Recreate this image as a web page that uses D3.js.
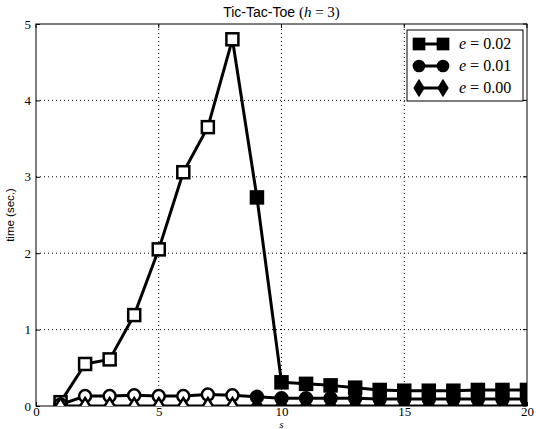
<!DOCTYPE html>
<html lang="en">
<head>
<meta charset="UTF-8">
<title>Tic-Tac-Toe</title>
<script src="https://cdn.jsdelivr.net/npm/d3@7"></script>
<style>
  body { margin: 0; background: #fff; }
</style>
</head>
<body>
<div id="chart"></div>
<script>
// data
var sValues = [1, 2, 3, 4, 5, 6, 7, 8, 9, 10, 11, 12, 13, 14, 15, 16, 17, 18, 19, 20];
var timeE002 = [0.05, 0.55, 0.61, 1.19, 2.05, 3.06, 3.65, 4.80, 2.73, 0.31, 0.29, 0.27, 0.24, 0.21, 0.20, 0.20, 0.20, 0.21, 0.21, 0.21];
var timeE001 = [0.02, 0.13, 0.13, 0.14, 0.13, 0.13, 0.15, 0.14, 0.12, 0.10, 0.10, 0.10, 0.10, 0.09, 0.09, 0.09, 0.09, 0.09, 0.09, 0.09];
var timeE000 = [0.00, 0.00, 0.00, 0.00, 0.00, 0.00, 0.00, 0.00, 0.00, 0.00, 0.00, 0.00, 0.00, 0.00, 0.00, 0.00, 0.00, 0.00, 0.00, 0.00];
var seriesLabels = ["0.02", "0.01", "0.00"];
var xTicks = [0, 5, 10, 15, 20];
var yTicks = [0, 1, 2, 3, 4, 5];

var width = 536, height = 429;
var margin = {top: 24, right: 9, bottom: 23, left: 36};

var svg = d3.select("#chart").append("svg")
    .attr("width", width)
    .attr("height", height);

var x = d3.scaleLinear().domain([0, 20]).range([margin.left, width - margin.right]);
var y = d3.scaleLinear().domain([0, 5]).range([height - margin.bottom, margin.top]);

var serif = "'Liberation Serif', 'DejaVu Serif', serif";
var sans = "'Liberation Sans', Arial, sans-serif";

svg.append("defs").append("clipPath").attr("id", "plotclip")
  .append("rect")
    .attr("x", x(0)).attr("y", y(5))
    .attr("width", x(20) - x(0)).attr("height", y(0) - y(5));

// grid
svg.append("g").selectAll("line").data(xTicks.slice(1, -1)).enter().append("line")
    .attr("x1", d => x(d)).attr("x2", d => x(d))
    .attr("y1", y(0)).attr("y2", y(5))
    .attr("stroke", "#000").attr("stroke-width", 1).attr("stroke-dasharray", "1,3");
svg.append("g").selectAll("line").data(yTicks.slice(1, -1)).enter().append("line")
    .attr("y1", d => y(d)).attr("y2", d => y(d))
    .attr("x1", x(0)).attr("x2", x(20))
    .attr("stroke", "#000").attr("stroke-width", 1).attr("stroke-dasharray", "1,3");

// axes, ticks inside
var xAxis = d3.axisBottom(x).tickValues(xTicks).tickFormat(d3.format("d")).tickSize(-4).tickPadding(5);
var yAxis = d3.axisLeft(y).tickValues(yTicks).tickFormat(d3.format("d")).tickSize(-4).tickPadding(5);
var gx = svg.append("g").attr("transform", "translate(0," + y(0) + ")").call(xAxis);
var gy = svg.append("g").attr("transform", "translate(" + x(0) + ",0)").call(yAxis);
[gx, gy].forEach(function(g) {
  g.select(".domain").remove();
  g.selectAll("text").style("font-family", serif).style("font-size", "13px").attr("fill", "#000");
});
gx.selectAll("text").attr("dy", "0.4em");
// top and right ticks
svg.append("g").selectAll("line").data(xTicks).enter().append("line")
    .attr("x1", d => x(d)).attr("x2", d => x(d))
    .attr("y1", y(5)).attr("y2", y(5) + 4).attr("stroke", "#000");
svg.append("g").selectAll("line").data(yTicks).enter().append("line")
    .attr("y1", d => y(d)).attr("y2", d => y(d))
    .attr("x1", x(20)).attr("x2", x(20) - 4).attr("stroke", "#000");

// frame
svg.append("rect")
    .attr("x", x(0)).attr("y", y(5))
    .attr("width", x(20) - x(0)).attr("height", y(0) - y(5))
    .attr("fill", "none").attr("stroke", "#000").attr("stroke-width", 1);

// series
var series = [
  {label: seriesLabels[0], values: timeE002, shape: "square"},
  {label: seriesLabels[1], values: timeE001, shape: "circle"},
  {label: seriesLabels[2], values: timeE000, shape: "diamond"}
];

var line = d3.line().x((d, i) => x(sValues[i])).y(d => y(d));

function drawMarker(g, shape, cx, cy, filled, sz) {
  var fill = filled ? "#000" : "#fff";
  var k = sz || 1;
  if (shape === "square") {
    g.append("rect").attr("x", cx - 6 * k).attr("y", cy - 6 * k).attr("width", 12 * k).attr("height", 12 * k)
      .attr("fill", fill).attr("stroke", "#000").attr("stroke-width", 2.5);
  } else if (shape === "circle") {
    g.append("circle").attr("cx", cx).attr("cy", cy).attr("r", 6 * k)
      .attr("fill", fill).attr("stroke", "#000").attr("stroke-width", 2.5);
  } else {
    g.append("path").attr("d", "M" + cx + "," + (cy - 8 * k) + "L" + (cx + 5 * k) + "," + cy + "L" + cx + "," + (cy + 8 * k) + "L" + (cx - 5 * k) + "," + cy + "Z")
      .attr("fill", fill).attr("stroke", "#000").attr("stroke-width", 2.5);
  }
}

var plot = svg.append("g").attr("clip-path", "url(#plotclip)");
series.forEach(function(s) {
  plot.append("path").datum(s.values)
    .attr("d", line).attr("fill", "none")
    .attr("stroke", "#000").attr("stroke-width", 3).attr("stroke-linejoin", "round");
  var mg = plot.append("g");
  s.values.forEach(function(v, i) {
    drawMarker(mg, s.shape, x(sValues[i]), y(v), sValues[i] >= 9);
  });
});

// title
var title = svg.append("text")
    .attr("x", (x(0) + x(20)) / 2).attr("y", 17)
    .attr("text-anchor", "middle")
    .style("font-family", sans).style("font-size", "14px");
title.append("tspan").text("Tic-Tac-Toe ");
title.append("tspan").style("font-family", serif).style("font-size", "15px").text("(");
title.append("tspan").style("font-family", serif).style("font-size", "15px").style("font-style", "italic").text("h");
title.append("tspan").style("font-family", serif).style("font-size", "15px").text(" = 3)");

// axis labels
svg.append("text")
    .attr("transform", "translate(14," + ((y(0) + y(5)) / 2) + ") rotate(-90)")
    .attr("text-anchor", "middle")
    .style("font-family", sans).style("font-size", "11.5px")
    .text("time (sec.)");
svg.append("text")
    .attr("x", x(10)).attr("y", 428)
    .attr("text-anchor", "middle")
    .style("font-family", serif).style("font-style", "italic").style("font-size", "11px")
    .text("s");

// legend
var lg = svg.append("g").attr("transform", "translate(407,30)");
lg.append("rect").attr("width", 116).attr("height", 71)
  .attr("fill", "#fff").attr("stroke", "#000").attr("stroke-width", 1);
series.forEach(function(s, i) {
  var ly = 14 + i * 22;
  lg.append("line").attr("x1", 12).attr("x2", 36).attr("y1", ly).attr("y2", ly)
    .attr("stroke", "#000").attr("stroke-width", 3);
  drawMarker(lg, s.shape, 12, ly, true, 0.85);
  drawMarker(lg, s.shape, 36, ly, true, 0.85);
  var t = lg.append("text").attr("x", 52).attr("y", ly + 5)
    .style("font-family", serif).style("font-size", "16px");
  t.append("tspan").style("font-style", "italic").text("e");
  t.append("tspan").text(" = " + s.label);
});
</script>
</body>
</html>
